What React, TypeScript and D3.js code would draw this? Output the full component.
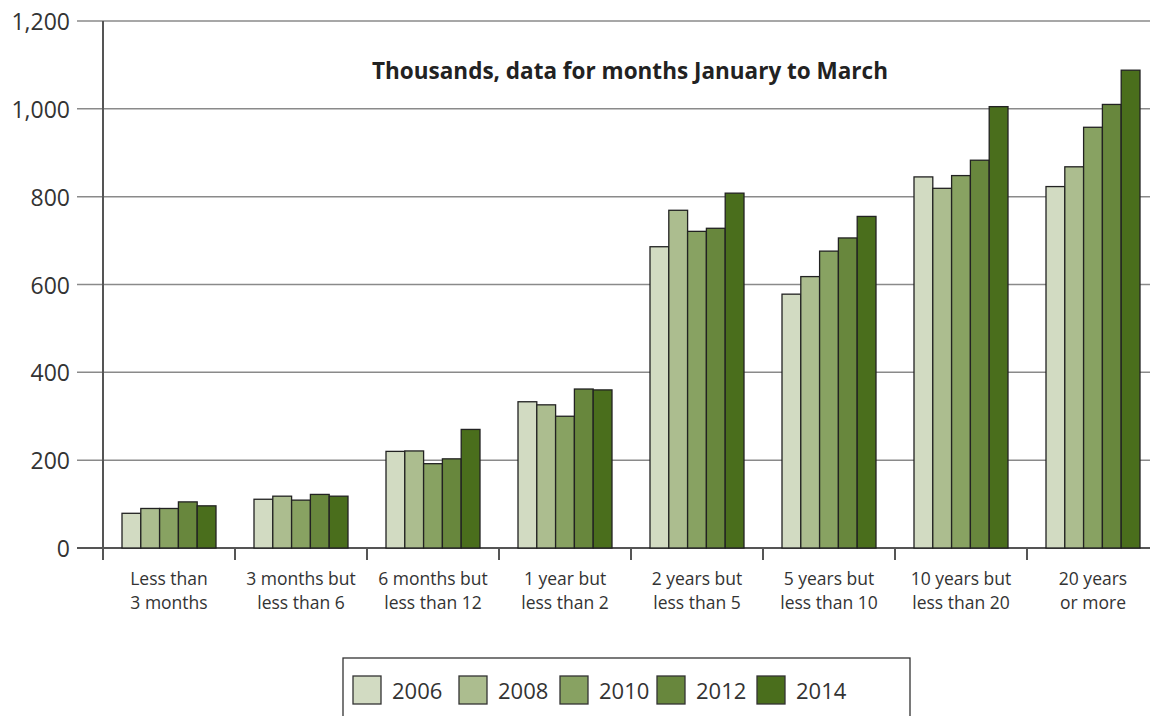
import { useEffect, useRef } from 'react'
import * as d3 from 'd3'

const categories = [
  'Less than|3 months',
  '3 months but|less than 6',
  '6 months but|less than 12',
  '1 year but|less than 2',
  '2 years but|less than 5',
  '5 years but|less than 10',
  '10 years but|less than 20',
  '20 years|or more',
]
const years = ['2006', '2008', '2010', '2012', '2014']
const v2006 = [79, 111, 220, 333, 686, 578, 845, 823]
const v2008 = [90, 118, 221, 326, 769, 618, 819, 868]
const v2010 = [90, 109, 192, 300, 721, 676, 848, 958]
const v2012 = [105, 122, 203, 362, 728, 706, 883, 1010]
const v2014 = [96, 118, 270, 360, 808, 755, 1005, 1088]
const yTicks = [0, 200, 400, 600, 800, 1000, 1200]
const colors = ['#d2dbc2', '#acbd8f', '#88a262', '#68873d', '#4a6e1c']
const title = 'Thousands, data for months January to March'

const W = 1150
const H = 716
const FONT = '"Open Sans", "Noto Sans", sans-serif'

export default function App() {
  const ref = useRef<SVGSVGElement>(null)
  useEffect(() => {
    const svg = d3.select(ref.current)
    svg.selectAll('*').remove()
    const series = [v2006, v2008, v2010, v2012, v2014]

    const x = d3.scaleBand().domain(categories).range([103, 1159]).padding(0)
    const xi = d3.scaleBand().domain(years).range([19, 113]).padding(0)
    const y = d3.scaleLinear().domain([0, 1200]).range([548, 21])

    // gridlines + left ticks
    const grid = svg.append('g')
    yTicks.forEach(t => {
      grid.append('line')
        .attr('x1', 77).attr('x2', W).attr('y1', y(t)).attr('y2', y(t))
        .attr('stroke', t === 0 ? '#555' : '#8a8a8a')
        .attr('stroke-width', t === 0 ? 2 : 1.5)
      grid.append('text')
        .attr('x', 70).attr('y', y(t))
        .attr('text-anchor', 'end')
        .attr('dominant-baseline', 'central')
        .style('font-family', FONT).style('font-size', '23px').attr('fill', '#333')
        .text(d3.format(',')(t))
    })

    // bars
    const bars = svg.append('g')
    categories.forEach((c, i) => {
      years.forEach((yr, j) => {
        const v = series[j][i]
        bars.append('rect')
          .attr('x', (x(c) ?? 0) + (xi(yr) ?? 0))
          .attr('y', y(v))
          .attr('width', xi.bandwidth())
          .attr('height', y(0) - y(v))
          .attr('fill', colors[j])
          .attr('stroke', '#222')
          .attr('stroke-width', 1.3)
      })
    })

    // y axis line
    svg.append('line')
      .attr('x1', 103).attr('x2', 103).attr('y1', y(1200)).attr('y2', 560)
      .attr('stroke', '#555').attr('stroke-width', 2)

    // category ticks + labels
    categories.forEach(c => {
      const x0 = x(c) ?? 0
      if (x0 > 103) {
        svg.append('line')
          .attr('x1', x0).attr('x2', x0).attr('y1', 548).attr('y2', 560)
          .attr('stroke', '#555').attr('stroke-width', 2)
      }
      const lines = c.split('|')
      lines.forEach((ln, k) => {
        svg.append('text')
          .attr('x', x0 + x.bandwidth() / 2)
          .attr('y', 578 + k * 24)
          .attr('text-anchor', 'middle')
          .attr('dominant-baseline', 'central')
          .style('font-family', FONT).style('font-size', '17.5px').attr('fill', '#333')
          .text(ln)
      })
    })

    // title
    svg.append('text')
      .attr('x', 630).attr('y', 70)
      .attr('text-anchor', 'middle')
      .attr('dominant-baseline', 'central')
      .style('font-family', FONT).style('font-size', '22.5px').style('font-weight', 'bold')
      .attr('fill', '#222')
      .text(title)

    // legend
    const lg = svg.append('g')
    lg.append('rect')
      .attr('x', 343).attr('y', 658).attr('width', 567).attr('height', 70)
      .attr('fill', 'white').attr('stroke', '#333').attr('stroke-width', 1.3)
    const swX = [353, 459, 560, 657, 757]
    years.forEach((yr, j) => {
      lg.append('rect')
        .attr('x', swX[j]).attr('y', 676).attr('width', 28).attr('height', 28)
        .attr('fill', colors[j]).attr('stroke', '#333').attr('stroke-width', 1.3)
      lg.append('text')
        .attr('x', swX[j] + 39).attr('y', 690)
        .attr('dominant-baseline', 'central')
        .style('font-family', FONT).style('font-size', '22px').attr('fill', '#333')
        .text(yr)
    })
  }, [])

  return (
    <svg
      ref={ref}
      width={W}
      height={H}
      style={{ position: 'absolute', left: 0, top: 0, background: 'white' }}
    />
  )
}
